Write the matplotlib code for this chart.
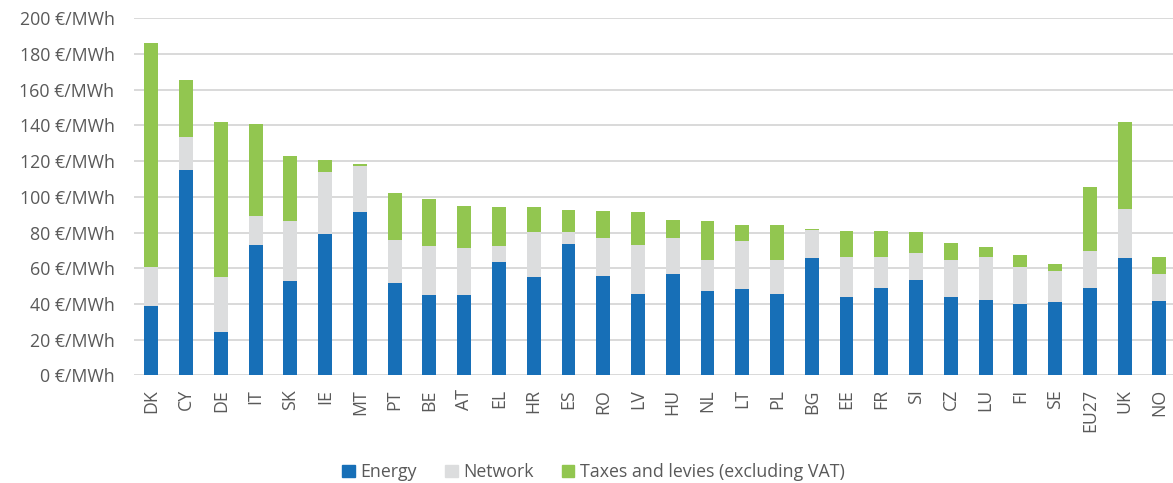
import numpy as np
import matplotlib

matplotlib.use("Agg")
import matplotlib.pyplot as plt
from matplotlib.patches import Patch

# ── Data (€/MWh) ────────────────────────────────────────────────
countries = ["DK", "CY", "DE", "IT", "SK", "IE", "MT", "PT", "BE", "AT", "EL",
             "HR", "ES", "RO", "LV", "HU", "NL", "LT", "PL", "BG", "EE", "FR",
             "SI", "CZ", "LU", "FI", "SE", "EU27", "UK", "NO"]
# cumulative tops
energy_top = [39.1, 115.0, 24.0, 73.0, 52.9, 79.0, 91.7, 51.8, 45.1, 45.1, 63.5,
              55.2, 73.6, 55.7, 45.6, 56.8, 47.5, 48.3, 45.6, 65.8, 43.6, 49.0,
              53.5, 43.6, 42.3, 39.7, 41.0, 49.0, 65.8, 41.7]
network_top = [60.9, 133.6, 55.2, 89.1, 86.5, 113.7, 117.0, 75.8, 72.5, 71.2, 72.5,
               80.3, 80.3, 77.0, 73.0, 77.0, 64.5, 75.1, 64.5, 81.2, 66.3, 66.3,
               68.4, 64.5, 66.3, 60.4, 58.5, 69.7, 93.0, 57.0]
total_top = [186.0, 165.3, 142.0, 140.9, 122.8, 120.9, 118.3, 102.3, 98.8, 94.8, 94.3,
             94.3, 92.4, 92.2, 91.5, 86.8, 86.3, 84.0, 84.0, 81.8, 80.9, 80.9,
             80.1, 74.2, 72.1, 67.6, 62.4, 105.5, 142.0, 66.3]

energy = np.array(energy_top)
network = np.array(network_top) - energy
taxes = np.array(total_top) - np.array(network_top)

# ── Style ───────────────────────────────────────────────────────
plt.rcParams["font.family"] = ["Open Sans", "DejaVu Sans"]
TEXT = "#595959"
C_ENERGY = "#176FB7"
C_NETWORK = "#DCDDDE"
C_TAXES = "#92C650"

fig = plt.figure(figsize=(11.73, 4.83), dpi=100)
ax = fig.add_axes([0.1142, 0.223, 0.889, 0.739])

x = np.arange(len(countries))
w = 0.4
ax.bar(x, energy, w, color=C_ENERGY, label="Energy", zorder=3)
ax.bar(x, network, w, bottom=energy, color=C_NETWORK, label="Network", zorder=3)
ax.bar(x, taxes, w, bottom=energy + network, color=C_TAXES,
       label="Taxes and levies (excluding VAT)", zorder=3)

ax.set_xlim(-0.5, len(countries) - 0.5)
ax.set_ylim(0, 200)
ax.set_yticks(np.arange(0, 201, 20))
ax.set_yticklabels([f"{v} €/MWh" for v in range(0, 201, 20)])
ax.set_xticks(x)
ax.set_xticklabels(countries, rotation=90)
ax.tick_params(axis="both", length=0, labelsize=12.8, colors=TEXT)
ax.tick_params(axis="y", pad=14)
ax.tick_params(axis="x", pad=10)
ax.yaxis.grid(True, color="#D9D9D9", linewidth=1.4, zorder=0)
for s in ax.spines.values():
    s.set_visible(False)

handles = [Patch(color=C_ENERGY, label="Energy"),
           Patch(color=C_NETWORK, label="Network"),
           Patch(color=C_TAXES, label="Taxes and levies (excluding VAT)")]
fig.legend(handles=handles, loc="center", bbox_to_anchor=(0.506, 0.022),
           ncol=3, frameon=False, fontsize=12.8, labelcolor=TEXT,
           handlelength=0.7, handleheight=0.7, handletextpad=0.3,
           columnspacing=1.6)

fig.savefig("out.png", dpi=100)
